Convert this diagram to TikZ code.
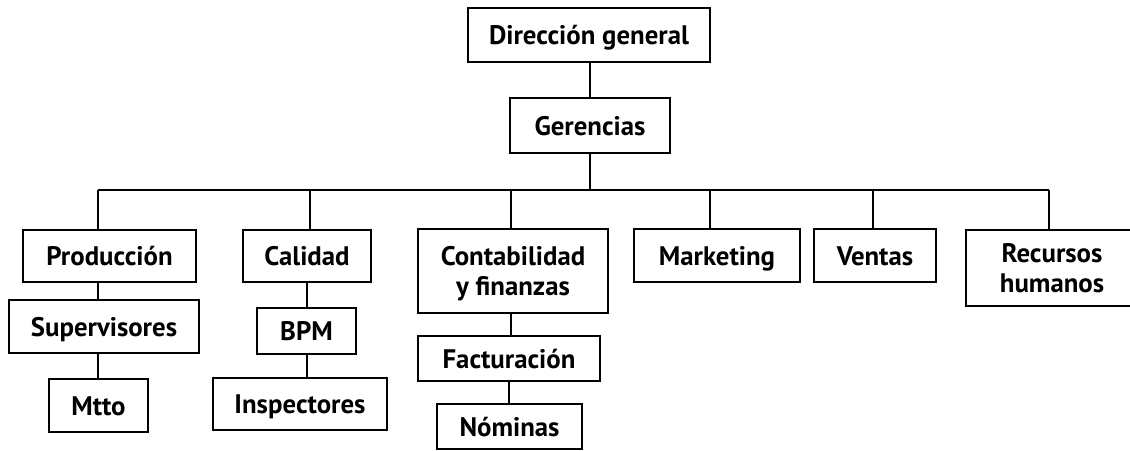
\documentclass[tikz,border=0pt]{standalone}
\usepackage{fontspec}
\setmainfont{PT Sans}
\usepackage{tikz}
\usetikzlibrary{positioning,calc}

\tikzset{caja/.style={draw, line width=1pt, inner sep=0pt, text centered, align=center,
  text depth=0pt, font=\fontsize{13.4}{15}\selectfont\bfseries},
  una/.style={caja, text height=9.6pt}}

\begin{document}
\begin{tikzpicture}[x=0.5pt, y=-0.5pt]
\useasboundingbox (0,0) rectangle (1130,450);

%nodes
\node [una, minimum width=121pt, minimum height=27pt](dir) at (589,35){Dirección general};
\node [una, minimum width=80pt, minimum height=27.5pt](ger) at (590,125.5){Gerencias};

\node [una, minimum width=86.5pt, minimum height=26pt](prod) at (109.5,256){Producción};
\node [una, minimum width=64pt, minimum height=26pt](cal) at (307,256){Calidad};
\node [caja, minimum width=95pt, minimum height=42pt](cont) at (513,271){Contabilidad\\y finanzas};
\node [una, minimum width=83pt, minimum height=26.5pt](mkt) at (717,255.5){Marketing};
\node [una, minimum width=61pt, minimum height=26.5pt](ven) at (875,255.5){Ventas};
\node [caja, minimum width=86pt, minimum height=38pt](rh) at (1052,268){Recursos\\humanos};

\node [una, minimum width=95pt, minimum height=26.5pt](sup) at (104,326.5){Supervisores};
\node [una, minimum width=49.5pt, minimum height=26.5pt](mtto) at (98.5,405.5){Mtto};

\node [una, minimum width=49.5pt, minimum height=23pt](bpm) at (306.5,331){BPM};
\node [una, minimum width=87pt, minimum height=26pt](insp) at (300,404){Inspectores};

\node [una, minimum width=91pt, minimum height=22.5pt](fact) at (509,358.5){Facturación};
\node [una, minimum width=72.5pt, minimum height=22.5pt](nom) at (509.5,426.5){Nóminas};

%bus
\coordinate (b1) at (98,190);
\coordinate (b2) at (310,190);
\coordinate (b3) at (511,190);
\coordinate (b4) at (710,190);
\coordinate (b5) at (873,190);
\coordinate (b6) at (1049,190);

%arrows
\path [draw, line width=1pt] (dir.south -| ger) -- (ger.north);
\path [draw, line width=1pt] (ger.south) -- (ger |- b1);
\path [draw, line width=1pt] (b1) -- (b6);

\path [draw, line width=1pt] (b1) -- (b1 |- prod.north);
\path [draw, line width=1pt] (b2) -- (b2 |- cal.north);
\path [draw, line width=1pt] (b3) -- (b3 |- cont.north);
\path [draw, line width=1pt] (b4) -- (b4 |- mkt.north);
\path [draw, line width=1pt] (b5) -- (b5 |- ven.north);
\path [draw, line width=1pt] (b6) -- (b6 |- rh.north);

\path [draw, line width=1pt] (b1 |- prod.south) -- (b1 |- sup.north);
\path [draw, line width=1pt] (b1 |- sup.south) -- (b1 |- mtto.north);

\path [draw, line width=1pt] (cal.south) -- (cal.south |- bpm.north);
\path [draw, line width=1pt] (cal.south |- bpm.south) -- (cal.south |- insp.north);

\path [draw, line width=1pt] (b3 |- cont.south) -- (b3 |- fact.north);
\path [draw, line width=1pt] (fact.south) -- (fact.south |- nom.north);

\end{tikzpicture}
\end{document}
